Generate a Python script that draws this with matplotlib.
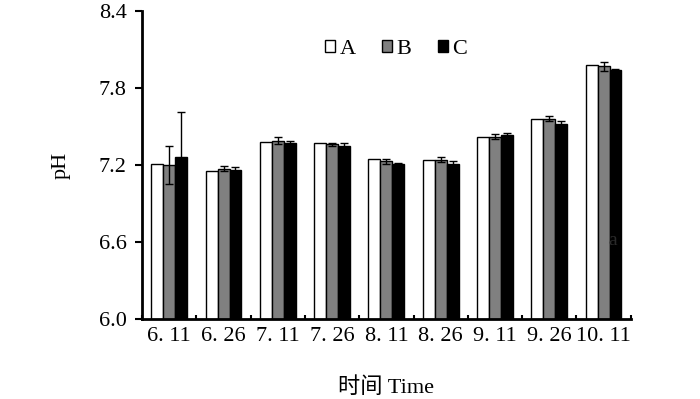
import numpy as np
import matplotlib.pyplot as plt

# pH by sampling date, treatments A/B/C
dates = ['6. 11', '6. 26', '7. 11', '7. 26', '8. 11', '8. 26', '9. 11', '9. 26', '10. 11']
ph_a = [7.21, 7.15, 7.38, 7.37, 7.25, 7.24, 7.42, 7.56, 7.98]
ph_b = [7.20, 7.17, 7.39, 7.36, 7.23, 7.24, 7.42, 7.56, 7.97]
ph_c = [7.26, 7.16, 7.37, 7.35, 7.21, 7.21, 7.43, 7.52, 7.94]
err_b = [0.15, 0.02, 0.025, 0.01, 0.02, 0.02, 0.02, 0.02, 0.035]
err_c = [0.35, 0.025, 0.02, 0.02, 0.005, 0.02, 0.02, 0.02, 0.005]

serif = ['Liberation Serif', 'Noto Sans CJK SC']
plt.rcParams['font.family'] = serif

fig = plt.figure(figsize=(7, 3.99), dpi=100)
ax = fig.add_axes([0.203, 0.2005, 0.698, 0.772])

x = np.arange(len(dates))
w = 0.22
ekw = dict(elinewidth=1, capthick=1, ecolor='black')
ax.bar(x - w, ph_a, w, color='white', edgecolor='black', linewidth=1, label='A')
ax.bar(x, ph_b, w, color='#808080', edgecolor='black', linewidth=1, label='B',
       yerr=err_b, capsize=3, error_kw=ekw)
ax.bar(x + w, ph_c, w, color='black', edgecolor='black', linewidth=1, label='C',
       yerr=err_c, capsize=3, error_kw=ekw)

ax.set_xlim(-0.5, len(dates) - 0.5)
ax.set_ylim(6.0, 8.4)
ax.set_yticks([6.0, 6.6, 7.2, 7.8, 8.4])
ax.set_yticklabels(['6.0', '6.6', '7.2', '7.8', '8.4'])
ax.set_xticks(x)
ax.set_xticklabels(dates)
ax.set_xticks(np.arange(len(dates) + 1) - 0.5, minor=True)
ax.tick_params(axis='x', which='major', length=0, labelsize=16, pad=6)
ax.tick_params(axis='x', which='minor', direction='in', length=3, width=1.5)
ax.tick_params(axis='y', length=5, width=1.5, labelsize=16, pad=6)

for s in ['top', 'right']:
    ax.spines[s].set_visible(False)
for s in ['left', 'bottom']:
    ax.spines[s].set_linewidth(2)

ax.set_ylabel('pH', fontsize=16, labelpad=20)
ax.set_xlabel('时间 Time', fontsize=16, labelpad=22)

ax.legend(loc='center', bbox_to_anchor=(0.52, 0.875), ncol=3, frameon=False,
          fontsize=16, handlelength=0.45, handleheight=0.45, handletextpad=0.2,
          columnspacing=1.2)

# faint stray mark on the last black bar
ax.text(608, 154, 'a', transform=None, color='#2a2a2a', fontsize=14)

fig.savefig('out.png', dpi=100)
